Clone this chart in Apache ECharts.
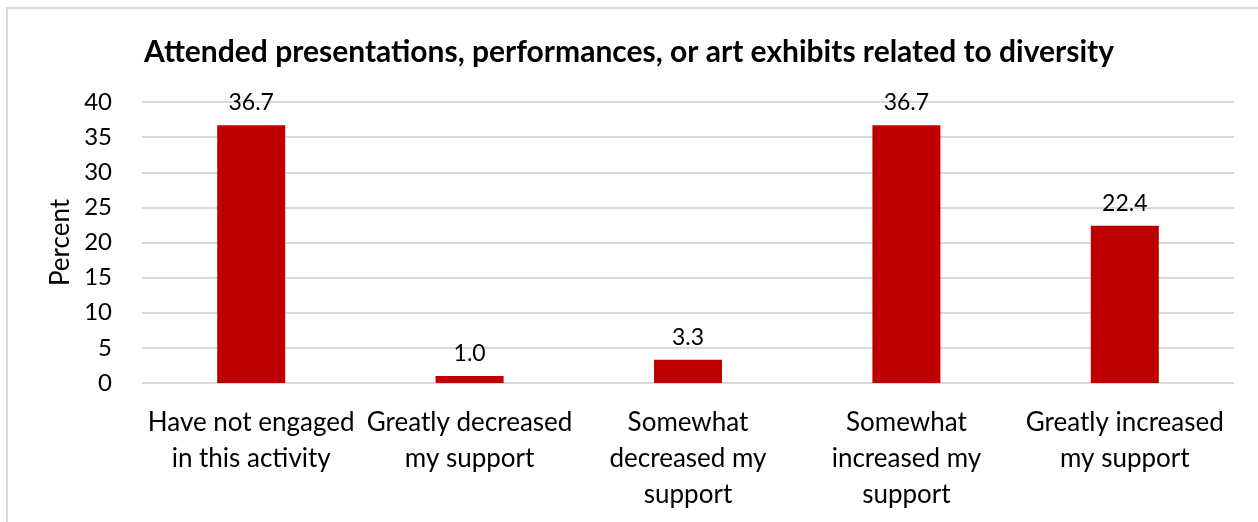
<!DOCTYPE html>
<html>
<head>
<meta charset="utf-8">
<script src="https://cdn.jsdelivr.net/npm/echarts@6/dist/echarts.min.js"></script>
<style>
  html, body { margin: 0; padding: 0; background: #fff; }
  #main { width: 1258px; height: 522px; }
</style>
</head>
<body>
<div id="main"></div>
<script>
var categories = [
    'Have not engaged\nin this activity',
    'Greatly decreased\nmy support',
    'Somewhat\ndecreased my\nsupport',
    'Somewhat\nincreased my\nsupport',
    'Greatly increased\nmy support'
];
var percents = [36.7, 1.0, 3.3, 36.7, 22.4];

var myChart = echarts.init(document.getElementById('main'));

var font = 'Lato, "Open Sans", sans-serif';

var option = {
    animation: false,
    title: {
        text: 'Attended presentations, performances, or art exhibits related to diversity',
        left: 'center',
        top: 32,
        textStyle: {fontFamily: font, fontSize: 30, fontWeight: 'bold', color: '#000'}
    },
    graphic: [
        {
            type: 'rect',
            shape: {x: 7, y: 8, width: 1300, height: 600},
            style: {fill: 'none', stroke: '#d9d9d9', lineWidth: 2}
        }
    ],
    grid: {left: 142, right: 24, top: 102, bottom: 139},
    xAxis: {
        type: 'category',
        data: categories,
        axisLine: {show: false},
        axisTick: {show: false},
        axisLabel: {
            interval: 0,
            margin: 22,
            fontFamily: font, fontSize: 26, lineHeight: 36, color: '#000'
        }
    },
    yAxis: {
        type: 'value',
        min: 0,
        max: 40,
        interval: 5,
        name: 'Percent',
        nameLocation: 'middle',
        nameGap: 68,
        nameTextStyle: {fontFamily: font, fontSize: 26, color: '#000'},
        axisLabel: {fontFamily: font, fontSize: 24, color: '#000', margin: 30},
        splitLine: {lineStyle: {color: '#d9d9d9', width: 2}}
    },
    series: [
        {
            type: 'bar',
            data: percents,
            barWidth: 68,
            itemStyle: {color: '#c00000'},
            label: {
                show: true,
                position: 'top',
                distance: 11,
                formatter: function (p) { return p.value.toFixed(1); },
                fontFamily: font, fontSize: 23, color: '#000'
            }
        }
    ]
};
myChart.setOption(option);
</script>
</body>
</html>
